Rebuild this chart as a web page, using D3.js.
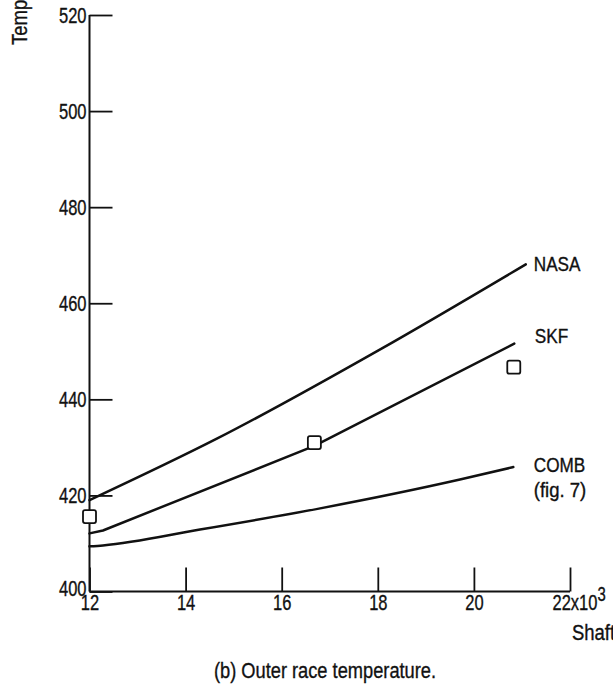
<!DOCTYPE html>
<html>
<head>
<meta charset="utf-8">
<script src="https://cdn.jsdelivr.net/npm/d3@7"></script>
<style>
  html, body { margin: 0; padding: 0; background: #fff; overflow: hidden; }
  svg text { font-family: "Liberation Sans", Arial, sans-serif; fill: #111; stroke: #111; stroke-width: 0.35px; }
</style>
</head>
<body>
<svg id="chart" width="613" height="688"></svg>
<script>
// Shaft speed (x10^3 rpm) and outer race temperature (K)
const xTicks = [12, 14, 16, 18, 20, 22];
const yTicks = [400, 420, 440, 460, 480, 500, 520];

const nasaSpeed = [12, 14.65, 18.05, 21.08];
const nasaTemp  = [419, 431.8, 450.4, 468.1];

const skfSpeed = [12, 12.28, 16.68, 20.84];
const skfTemp  = [412.1, 412.7, 430.3, 451.6];

const combSpeed = [12, 12.28, 14.3, 16.8, 19.71, 20.82];
const combTemp  = [409.4, 409.6, 412.9, 417.3, 423.3, 425.9];

// Measured outer race temperatures
const expSpeed = [12.0, 16.68, 20.83];
const expTemp  = [415.6, 431.0, 446.7];

const seriesNames = ["NASA", "SKF", "COMB"];
const seriesNotes = ["", "", "(fig. 7)"];

const svg = d3.select("#chart");
const fontSize = 22;
const numSquash = 0.75;  // condensed look for numerals
const wordSquash = 0.84; // condensed look for words

const x = d3.scaleLinear().domain([12, 22]).range([89.5, 570]);
const y = d3.scaleLinear().domain([400, 520]).range([591.5, 15]);

// Y axis: ticks point into the plot
const yAxis = svg.append("g")
  .attr("transform", `translate(${x(12)},0)`)
  .call(d3.axisLeft(y).tickValues(yTicks).tickSize(-23).tickPadding(4).tickFormat(d3.format("d")));
yAxis.select(".domain").remove();
yAxis.selectAll(".tick line").attr("stroke", "#111").attr("stroke-width", 1.8);
yAxis.selectAll(".tick text")
  .attr("font-size", fontSize)
  .attr("dy", d => d === 400 ? "0.2em" : "0.34em")
  .attr("transform", `scale(${numSquash},1)`);

// X axis: ticks point up into the plot
const xAxis = svg.append("g")
  .attr("transform", `translate(0,${y(400)})`)
  .call(d3.axisBottom(x).tickValues(xTicks).tickSize(-24).tickPadding(3).tickFormat(d3.format("d")));
xAxis.select(".domain").remove();
xAxis.selectAll(".tick line").attr("stroke", "#111").attr("stroke-width", 1.8);
xAxis.selectAll(".tick text")
  .attr("font-size", fontSize)
  .attr("transform", `scale(${numSquash},1)`);

// Last x label carries the x10^3 multiplier
xAxis.selectAll(".tick text").filter(d => d === 22)
  .attr("text-anchor", "start")
  .attr("x", -18 / numSquash)
  .text("22x10")
  .append("tspan")
  .attr("dy", "-0.45em")
  .attr("font-size", fontSize * 0.9)
  .text("3");

// Axis lines
svg.append("line")
  .attr("x1", x(12)).attr("x2", x(12))
  .attr("y1", y(520)).attr("y2", y(400))
  .attr("stroke", "#111").attr("stroke-width", 2);
svg.append("line")
  .attr("x1", x(12)).attr("x2", x(22))
  .attr("y1", y(400)).attr("y2", y(400))
  .attr("stroke", "#111").attr("stroke-width", 2);

// Curves
const smooth = d3.line().x(d => x(d[0])).y(d => y(d[1])).curve(d3.curveMonotoneX);
const straight = d3.line().x(d => x(d[0])).y(d => y(d[1]));

const curves = [
  { pts: d3.zip(nasaSpeed, nasaTemp), gen: smooth },
  { pts: d3.zip(skfSpeed, skfTemp), gen: straight },
  { pts: d3.zip(combSpeed, combTemp), gen: smooth }
];

svg.append("g").selectAll("path")
  .data(curves)
  .join("path")
  .attr("d", d => d.gen(d.pts))
  .attr("fill", "none")
  .attr("stroke", "#111")
  .attr("stroke-width", 2.5)
  .attr("stroke-linejoin", "round")
  .attr("stroke-linecap", "round");

// Curve labels at the right-hand end of each curve
const labelDx = [8, 20.5, 20.5];
const labelDy = [6.5, -1, 5];
const labelGroup = svg.append("g");
curves.forEach((c, i) => {
  const last = c.pts[c.pts.length - 1];
  const lx = x(last[0]) + labelDx[i];
  const ly = y(last[1]) + labelDy[i];
  labelGroup.append("text")
    .attr("transform", `translate(${lx},${ly}) scale(0.88,1)`)
    .attr("font-size", 19.5)
    .text(seriesNames[i]);
  if (seriesNotes[i]) {
    labelGroup.append("text")
      .attr("transform", `translate(${lx},${ly + 25}) scale(0.95,1)`)
      .attr("font-size", 19.5)
      .text(seriesNotes[i]);
  }
});

// Experimental points as open squares
const s = 13;
svg.append("g").selectAll("rect")
  .data(d3.zip(expSpeed, expTemp))
  .join("rect")
  .attr("x", d => x(d[0]) - s / 2)
  .attr("y", d => y(d[1]) - s / 2)
  .attr("width", s)
  .attr("height", s)
  .attr("rx", 2)
  .attr("fill", "#fff")
  .attr("stroke", "#111")
  .attr("stroke-width", 1.8);

// Axis titles (run past the page edges)
svg.append("text")
  .attr("transform", `translate(27,45) rotate(-90) scale(${wordSquash},1)`)
  .attr("font-size", fontSize)
  .text("Temperature, K");

svg.append("text")
  .attr("transform", `translate(572,640) scale(${wordSquash},1)`)
  .attr("font-size", fontSize)
  .text("Shaft speed, rpm");

// Caption
svg.append("text")
  .attr("transform", `translate(325,678) scale(0.83,1)`)
  .attr("text-anchor", "middle")
  .attr("font-size", fontSize)
  .text("(b) Outer race temperature.");
</script>
</body>
</html>
